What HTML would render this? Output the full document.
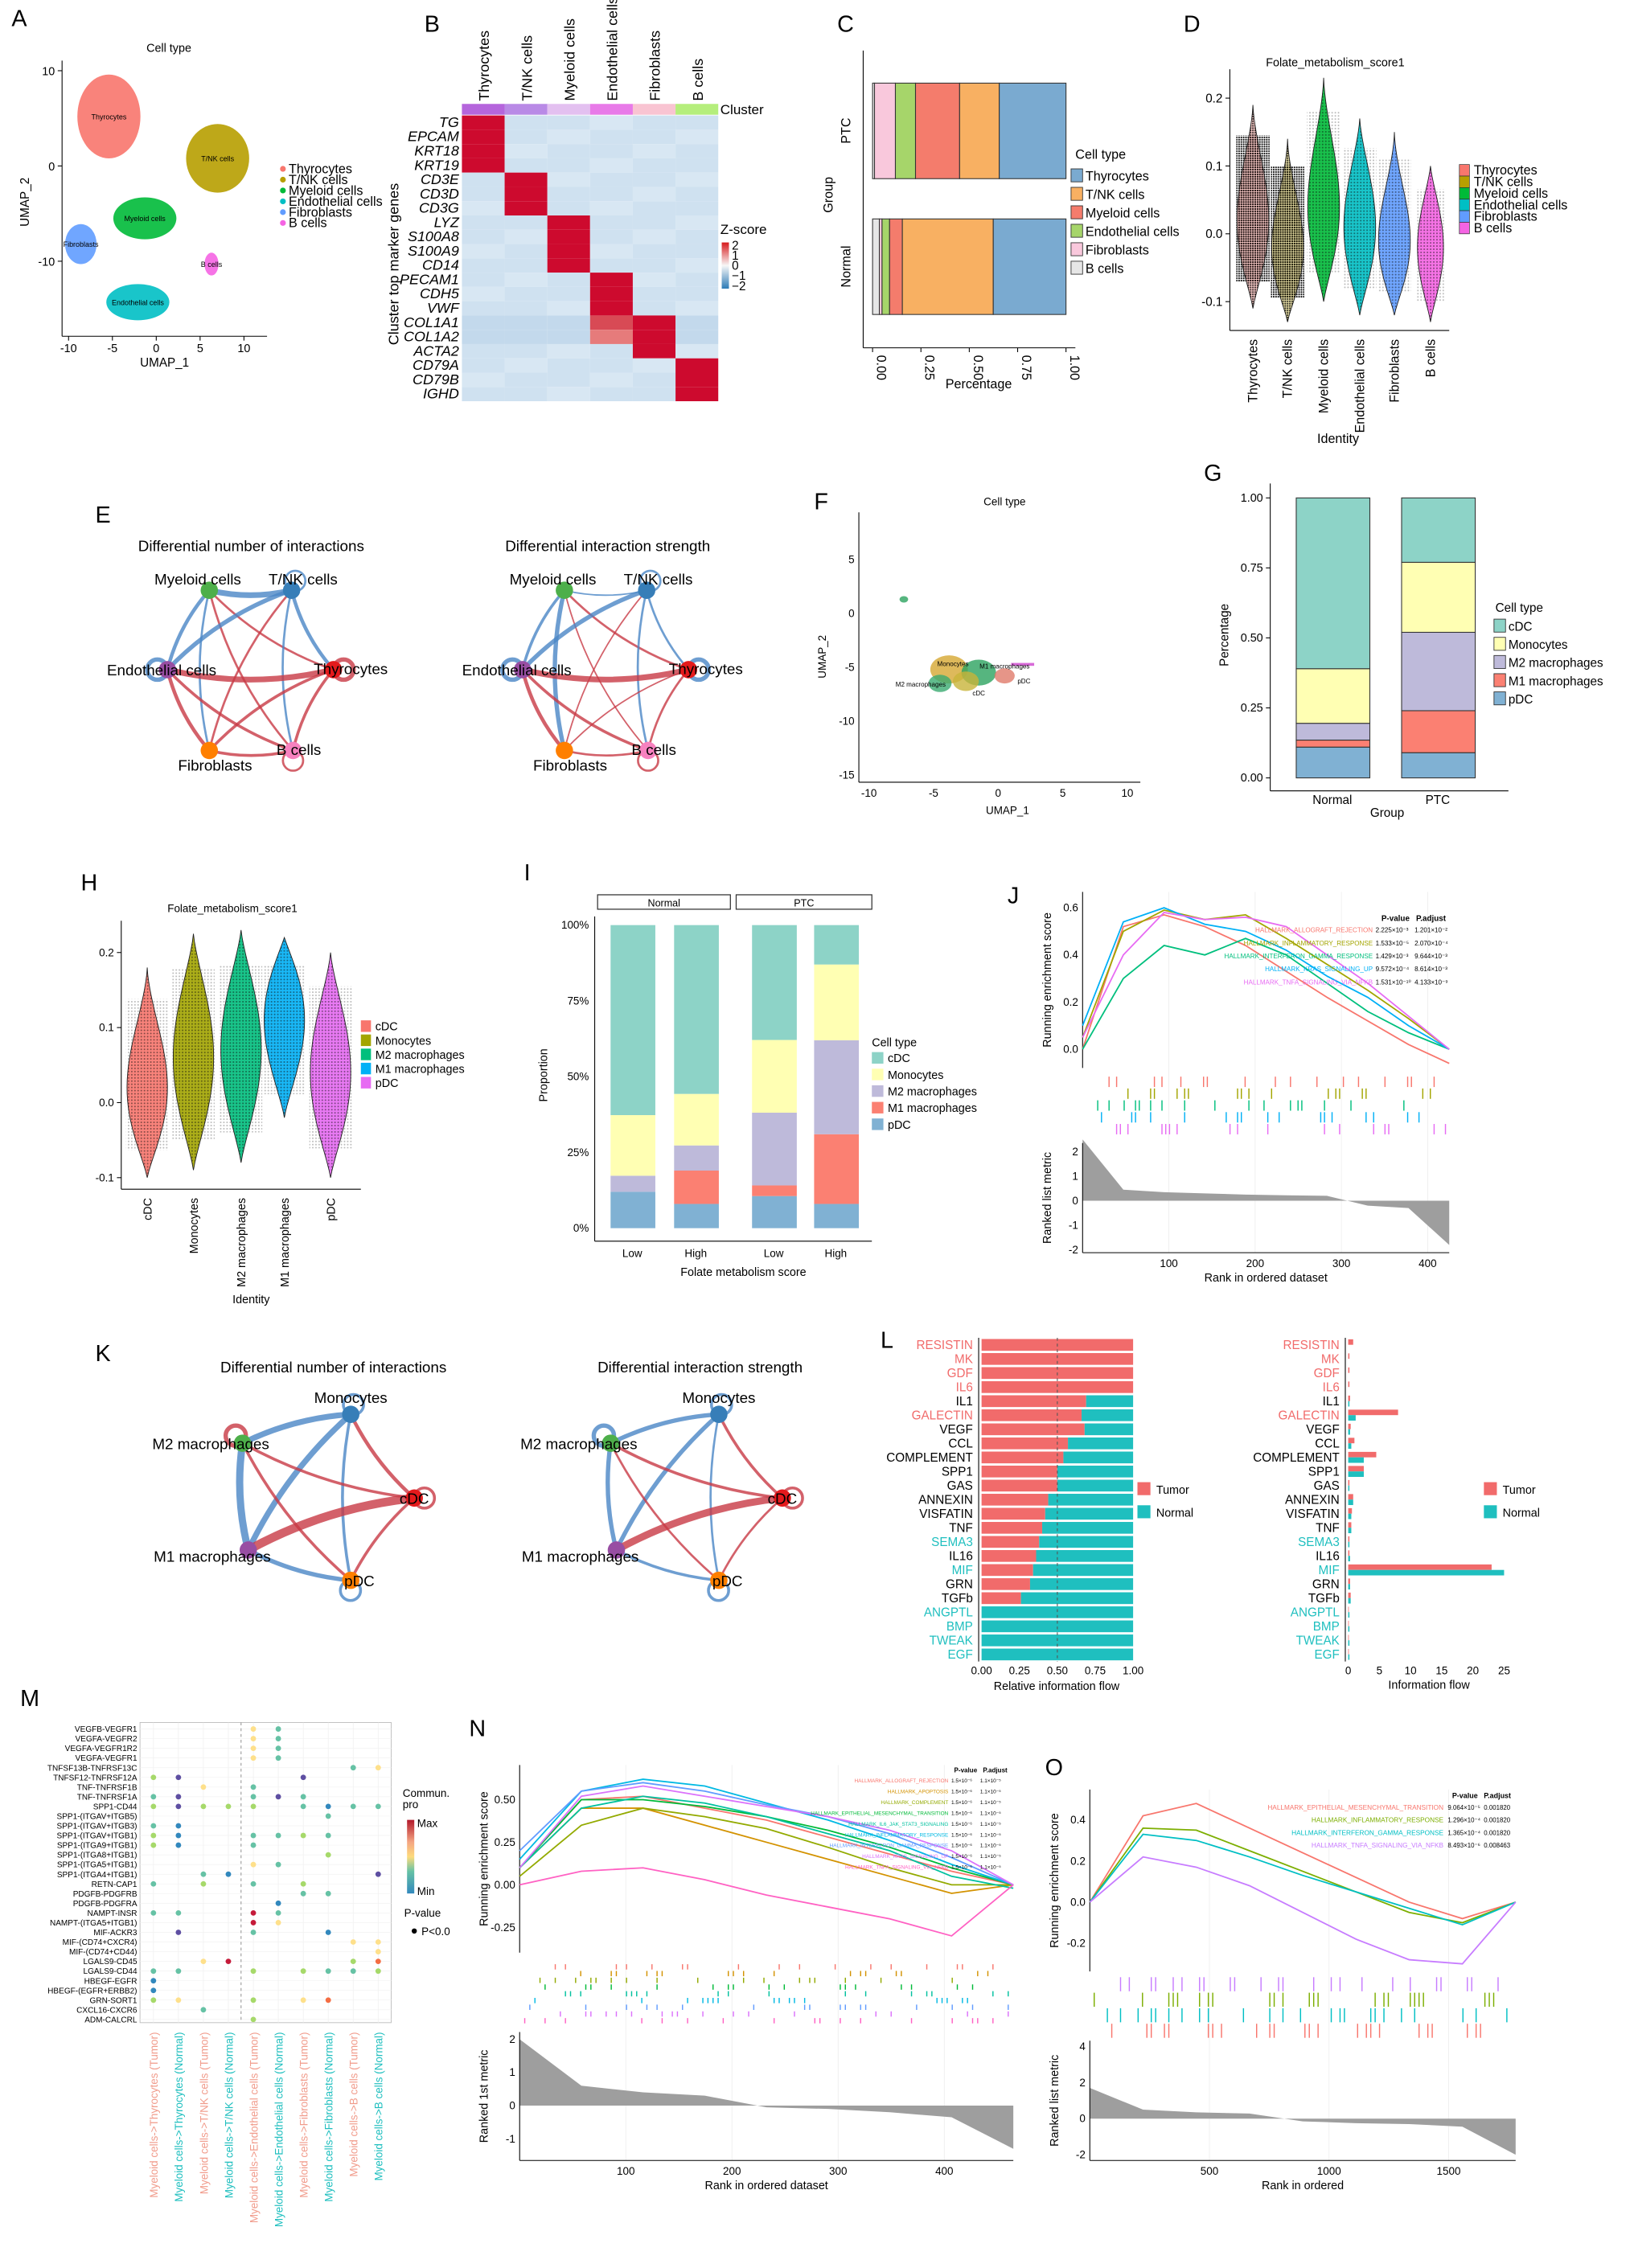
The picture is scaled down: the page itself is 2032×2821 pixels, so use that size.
<!DOCTYPE html>
<html><head><meta charset="utf-8">
<style>
html,body{margin:0;padding:0;background:#fff;}
svg{display:block;font-family:"Liberation Sans",sans-serif;}
</style></head>
<body>
<svg id="fig" xmlns="http://www.w3.org/2000/svg" width="2032" height="2821" viewBox="0 0 1132 1571.5" preserveAspectRatio="none">
<defs>
<pattern id="dots" width="2.2" height="2.2" patternUnits="userSpaceOnUse"><circle cx="1.1" cy="1.1" r="0.55" fill="#111"/></pattern>
<pattern id="dense" width="1.6" height="1.6" patternUnits="userSpaceOnUse"><circle cx="0.8" cy="0.8" r="0.6" fill="#000"/></pattern>
<linearGradient id="zgrad" x1="0" y1="0" x2="0" y2="1"><stop offset="0" stop-color="#d7191c"/><stop offset="0.5" stop-color="#f7f7f7"/><stop offset="1" stop-color="#2c7bb6"/></linearGradient>
<linearGradient id="cgrad" x1="0" y1="0" x2="0" y2="1"><stop offset="0" stop-color="#b2182b"/><stop offset="0.3" stop-color="#f4a582"/><stop offset="0.5" stop-color="#fddb7c"/><stop offset="0.7" stop-color="#66c2a5"/><stop offset="1" stop-color="#3288bd"/></linearGradient>
</defs>
</svg>
<script>
// ---------------- DATA ----------------
const cellTypes=['Thyrocytes','T/NK cells','Myeloid cells','Endothelial cells','Fibroblasts','B cells'];
const umapColors=['#F8766D','#B79F00','#00BA38','#00BFC4','#619CFF','#F564E3'];
const umapAx=[-5.4,7.0,-1.3,-2.1,-8.6,6.3];
const umapAy=[5.2,0.8,-5.5,-14.3,-8.2,-10.3];
const umapArx=[3.6,3.6,3.6,3.6,1.8,0.8];
const umapAry=[4.4,3.6,2.2,1.9,2.1,1.2];
const heatGenes=['TG','EPCAM','KRT18','KRT19','CD3E','CD3D','CD3G','LYZ','S100A8','S100A9','CD14','PECAM1','CDH5','VWF','COL1A1','COL1A2','ACTA2','CD79A','CD79B','IGHD'];
const heatCluster=[0,0,0,0,1,1,1,2,2,2,2,3,3,3,4,4,4,5,5,5];
const clusterBarColors=['#b565dc','#b98ae6','#e3c0f0','#e87ae8','#f9c4d2','#b5ee7c'];
const cGroups=['PTC','Normal'];
const cLegend=['Thyrocytes','T/NK cells','Myeloid cells','Endothelial cells','Fibroblasts','B cells'];
const cColors=['#7aaad0','#f8b062','#f47c6c','#a6d56a','#f9c8dc','#e6e6e6'];
const cPTC=[0.01,0.108,0.104,0.228,0.205,0.345];
const cNormal=[0.035,0.014,0.039,0.066,0.47,0.376];
const dMin=[-0.11,-0.13,-0.1,-0.12,-0.12,-0.13];
const dMax=[0.19,0.14,0.23,0.17,0.15,0.1];
const dMode=[0.02,-0.02,0.04,0.01,-0.01,-0.02];
const dTicks=[0.2,0.1,0.0,-0.1];
const myeloidTypes=['cDC','Monocytes','M2 macrophages','M1 macrophages','pDC'];
const myeloidColors=['#8dd3c7','#ffffb3','#bebada','#fb8072','#80b1d3'];
const gNormal=[0.11,0.025,0.06,0.195,0.61];
const gPTC=[0.09,0.15,0.28,0.25,0.23];
const gTicks=[0,0.25,0.5,0.75,1.0];
const iBars=[[0.12,0.0,0.053,0.2,0.627],[0.08,0.11,0.083,0.17,0.557],[0.106,0.035,0.24,0.24,0.379],[0.08,0.23,0.31,0.25,0.13]];
const iLabels=['Low','High','Low','High'];
const hColors=['#F8766D','#A3A500','#00BF7D','#00B0F6','#E76BF3'];
const hMin=[-0.1,-0.09,-0.08,-0.02,-0.1];
const hMax=[0.18,0.225,0.23,0.22,0.2];
const hMode=[0.02,0.06,0.07,0.11,0.04];
const lPaths=['RESISTIN','MK','GDF','IL6','IL1','GALECTIN','VEGF','CCL','COMPLEMENT','SPP1','GAS','ANNEXIN','VISFATIN','TNF','SEMA3','IL16','MIF','GRN','TGFb','ANGPTL','BMP','TWEAK','EGF'];
const lLabelCol=['r','r','r','r','k','r','k','k','k','k','k','k','k','k','t','k','t','k','k','t','t','t','t'];
const lTumorFrac=[1,1,1,1,0.69,0.66,0.68,0.57,0.54,0.5,0.5,0.44,0.42,0.4,0.38,0.36,0.34,0.32,0.26,0,0,0,0];
const lTumorFlow=[0.8,0.2,0.2,0.2,0.3,8,0.4,1,4.5,2.5,0.2,0.8,0.6,0.5,0.2,0.2,23,0.3,0.4,0.1,0.1,0.1,0.1];
const lNormalFlow=[0,0,0,0,0.2,1.2,0.3,0.5,2.5,2.5,0.2,0.8,0.5,0.5,0.2,0.3,25,0.3,0.4,0.2,0.2,0.2,0.2];
const mRows=['VEGFB-VEGFR1','VEGFA-VEGFR2','VEGFA-VEGFR1R2','VEGFA-VEGFR1','TNFSF13B-TNFRSF13C','TNFSF12-TNFRSF12A','TNF-TNFRSF1B','TNF-TNFRSF1A','SPP1-CD44','SPP1-(ITGAV+ITGB5)','SPP1-(ITGAV+ITGB3)','SPP1-(ITGAV+ITGB1)','SPP1-(ITGA9+ITGB1)','SPP1-(ITGA8+ITGB1)','SPP1-(ITGA5+ITGB1)','SPP1-(ITGA4+ITGB1)','RETN-CAP1','PDGFB-PDGFRB','PDGFB-PDGFRA','NAMPT-INSR','NAMPT-(ITGA5+ITGB1)','MIF-ACKR3','MIF-(CD74+CXCR4)','MIF-(CD74+CD44)','LGALS9-CD45','LGALS9-CD44','HBEGF-EGFR','HBEGF-(EGFR+ERBB2)','GRN-SORT1','CXCL16-CXCR6','ADM-CALCRL'];
const mCols=['Myeloid cells->Thyrocytes (Tumor)','Myeloid cells->Thyrocytes (Normal)','Myeloid cells->T/NK cells (Tumor)','Myeloid cells->T/NK cells (Normal)','Myeloid cells->Endothelial cells (Tumor)','Myeloid cells->Endothelial cells (Normal)','Myeloid cells->Fibroblasts (Tumor)','Myeloid cells->Fibroblasts (Normal)','Myeloid cells->B cells (Tumor)','Myeloid cells->B cells (Normal)'];
const mDotRow=[0,0,1,1,2,2,3,3,4,4,5,5,5,6,6,7,7,7,7,7,8,8,8,8,8,8,8,8,8,9,10,10,11,11,11,11,11,11,12,12,12,13,14,14,15,15,15,16,16,16,16,17,17,18,19,19,19,19,20,20,21,21,21,22,22,23,24,24,24,24,25,25,25,25,25,25,25,26,27,28,28,28,28,28,29,30];
const mDotCol=[4,5,4,5,4,5,4,5,8,9,0,1,6,2,4,0,1,4,5,6,0,1,2,3,4,6,7,8,9,7,0,1,0,1,4,5,6,7,0,1,4,7,4,5,2,3,9,0,2,4,6,6,7,5,0,1,4,5,4,5,1,4,7,8,9,9,2,3,8,9,0,1,4,6,7,8,9,0,0,0,1,4,6,7,2,4];
const mDotVal=[0.5,0.3,0.5,0.3,0.5,0.3,0.5,0.3,0.25,0.5,0.35,0.1,0.1,0.5,0.3,0.3,0.1,0.3,0.1,0.3,0.35,0.1,0.45,0.35,0.35,0.3,0.2,0.3,0.3,0.25,0.3,0.15,0.35,0.2,0.3,0.3,0.4,0.3,0.35,0.2,0.3,0.35,0.5,0.3,0.3,0.2,0.1,0.3,0.35,0.3,0.35,0.3,0.3,0.2,0.3,0.3,0.95,0.3,0.85,0.5,0.05,0.3,0.15,0.55,0.55,0.55,0.6,0.9,0.4,0.75,0.3,0.3,0.4,0.4,0.3,0.3,0.35,0.15,0.15,0.4,0.5,0.35,0.5,0.8,0.3,0.35];
const jNames=['HALLMARK_ALLOGRAFT_REJECTION','HALLMARK_INFLAMMATORY_RESPONSE','HALLMARK_INTERFERON_GAMMA_RESPONSE','HALLMARK_KRAS_SIGNALING_UP','HALLMARK_TNFA_SIGNALING_VIA_NFKB'];
const jP=['2.225×10⁻³','1.533×10⁻⁵','1.429×10⁻³','9.572×10⁻⁴','1.531×10⁻¹⁰'];
const jPadj=['1.201×10⁻²','2.070×10⁻⁴','9.644×10⁻³','8.614×10⁻³','4.133×10⁻⁹'];
const jColors=['#F8766D','#A3A500','#00BF7D','#00B0F6','#E76BF3'];
const jES=[[0.0,0.52,0.57,0.52,0.44,0.33,0.22,0.12,0.02,-0.06],[0.05,0.5,0.59,0.55,0.57,0.47,0.36,0.25,0.13,0.0],[0.0,0.3,0.44,0.4,0.47,0.4,0.28,0.16,0.07,0.0],[0.1,0.54,0.6,0.53,0.5,0.42,0.31,0.22,0.1,0.0],[0.05,0.4,0.58,0.55,0.56,0.52,0.4,0.28,0.14,0.0]];
const jRank=[2.5,0.45,0.35,0.3,0.25,0.22,0.2,-0.2,-0.3,-1.8];
const nColors=['#F8766D','#D39200','#93AA00','#00BA38','#00C19F','#00B9E3','#619CFF','#DB72FB','#FF61C3'];
const nES=[[0.1,0.5,0.52,0.45,0.38,0.28,0.18,0.08,0.0],[0.1,0.45,0.45,0.35,0.25,0.15,0.05,-0.05,0.0],[0.05,0.35,0.45,0.4,0.33,0.22,0.1,0.0,0.0],[0.1,0.5,0.5,0.46,0.4,0.32,0.22,0.1,0.0],[0.1,0.45,0.52,0.48,0.4,0.3,0.2,0.05,-0.02],[0.15,0.55,0.62,0.58,0.48,0.38,0.26,0.12,0.0],[0.2,0.55,0.6,0.55,0.47,0.4,0.3,0.16,0.0],[0.1,0.52,0.58,0.52,0.46,0.4,0.32,0.2,0.0],[0.0,0.08,0.1,0.03,-0.06,-0.13,-0.2,-0.3,0.0]];
const nRank=[2.0,0.6,0.4,0.3,-0.05,-0.1,-0.2,-0.35,-1.3];
const oColors=['#F8766D','#7CAE00','#00BFC4','#C77CFF'];
const oRugColors=['#C77CFF','#7CAE00','#00BFC4','#F8766D'];
const oNames=['HALLMARK_EPITHELIAL_MESENCHYMAL_TRANSITION','HALLMARK_INFLAMMATORY_RESPONSE','HALLMARK_INTERFERON_GAMMA_RESPONSE','HALLMARK_TNFA_SIGNALING_VIA_NFKB'];
const oES=[[0.0,0.42,0.48,0.36,0.24,0.12,0.0,-0.08,0.0],[0.0,0.36,0.35,0.25,0.15,0.05,-0.05,-0.1,0.0],[0.0,0.33,0.3,0.22,0.13,0.05,-0.03,-0.11,0.0],[0.0,0.22,0.17,0.08,-0.05,-0.18,-0.28,-0.3,0.0]];
const oRank=[1.7,0.5,0.35,0.28,-0.15,-0.25,-0.3,-0.45,-2.0];

// ---------------- HELPERS ----------------
const NS='http://www.w3.org/2000/svg';
const svg=document.getElementById('fig');
function mk(tag,a,p){const e=document.createElementNS(NS,tag);for(const k in a)e.setAttribute(k,a[k]);(p||svg).appendChild(e);return e;}
function tx(x,y,s,o){o=o||{};const a={x:x,y:y,'font-size':o.fs||7,'text-anchor':o.a||'start',fill:o.c||'#000'};if(o.rot)a.transform='rotate('+o.rot+' '+x+' '+y+')';if(o.b)a['font-weight']='bold';if(o.it)a['font-style']='italic';const e=mk('text',a);e.textContent=s;


return e;}
function ln(x1,y1,x2,y2,c,w){const e=mk('line',{x1:x1,y1:y1,x2:x2,y2:y2,stroke:c||'#000','stroke-width':w||0.6});


return e;}
function lin(d0,d1,r0,r1){return v=>r0+(v-d0)*(r1-r0)/(d1-d0);}
function letter(x,y,s){tx(x,y,s,{fs:16,n:'panel-letter-'+s});}
function violin(cx,yTop,yBot,yMode,hw,col,name,dark){
  const p=Math.min(0.9,Math.max(0.1,(yMode-yTop)/(yBot-yTop)));const a=Math.log(0.5)/Math.log(p);
  let L=[],R=[];for(let i=0;i<=30;i++){const t=i/30;const w=hw*Math.pow(Math.sin(Math.PI*Math.pow(t,a)),1.2);const y=yTop+t*(yBot-yTop);R.push((cx+w)+','+y);L.unshift((cx-w)+','+y);}
  const d='M'+R.join(' L')+' L'+L.join(' L')+'Z';
  const cloud=mk('rect',{x:cx-hw*1.05,y:yTop+(yBot-yTop)*0.15,width:hw*2.1,height:(yBot-yTop)*0.72,fill:dark?'url(#dense)':'url(#dots)',opacity:dark?0.95:0.3});
  
  
  const v=mk('path',{d:d,fill:col,'fill-opacity':dark?0.35:0.9,stroke:'#222','stroke-width':0.5});
  
  
  const v2=mk('path',{d:d,fill:dark?'url(#dense)':'url(#dots)',opacity:dark?0.8:0.5});
  
  
}
function node(x,y,c,name){const e=mk('circle',{cx:x,cy:y,r:6,fill:c});

}
function edge(x1,y1,x2,y2,c,w,bend){const mx=(x1+x2)/2,my=(y1+y2)/2;const dx=x2-x1,dy=y2-y1;const qx=mx-dy*bend,qy=my+dx*bend;
const e=mk('path',{d:`M${x1},${y1} Q${qx},${qy} ${x2},${y2}`,fill:'none',stroke:c,'stroke-width':w,'stroke-opacity':0.8});

}
function loop(x,y,c,w,ang){const r=7;const cx=x+Math.cos(ang)*r,cy=y+Math.sin(ang)*r;const e=mk('circle',{cx:cx,cy:cy,r:r,fill:'none',stroke:c,'stroke-width':w,'stroke-opacity':0.8});

}

// ---------------- PANEL A ----------------
letter(8,18,'A');
tx(117,36,'Cell type',{fs:8,a:'middle',n:'a-title'});
{const sx=lin(-10,10,47.5,169),sy=lin(-10,10,181,49);
ln(43,42,43,233);ln(43,233,185,233);
[-10,-5,0,5,10].forEach(v=>{ln(sx(v),233,sx(v),236);tx(sx(v),244,String(v),{fs:8,a:'middle',n:'a-x-tick'});});
[10,0,-10].forEach(v=>{ln(40,sy(v),43,sy(v));tx(38,sy(v)+3,String(v),{fs:8,a:'end',n:'a-y-tick'});});
tx(114,254,'UMAP_1',{fs:8.5,a:'middle',n:'a-x-title'});tx(20,140,'UMAP_2',{fs:8.5,a:'middle',rot:-90,n:'a-y-title'});
for(let i=0;i<6;i++){const e=mk('ellipse',{cx:sx(umapAx[i]),cy:sy(umapAy[i]),rx:umapArx[i]*6.07,ry:umapAry[i]*6.6,fill:umapColors[i],opacity:0.9});


tx(sx(umapAx[i]),sy(umapAy[i])+2,cellTypes[i],{fs:5,a:'middle',n:'a-cluster-label'});}
for(let i=0;i<6;i++){const c=mk('circle',{cx:196,cy:117+i*7.5,r:2,fill:umapColors[i]});


tx(200,120+i*7.5,cellTypes[i],{fs:9,n:'a-legend-entry'});}}

// ---------------- PANEL B ----------------
letter(294,22,'B');
{const x0=320,cw=29.6,y0=80,rh=9.9;
for(let j=0;j<6;j++){tx(x0+j*cw+cw/2+4,70,cellTypes[j],{fs:10,a:'start',rot:-90,n:'b-col-label'});
const r=mk('rect',{x:x0+j*cw,y:72,width:cw,height:7.5,fill:clusterBarColors[j]});

}
tx(499,79,'Cluster',{fs:9.5,n:'b-cluster-label'});
for(let i=0;i<heatGenes.length;i++){tx(x0-2,y0+i*rh+8,heatGenes[i],{fs:10,a:'end',it:true,n:'b-gene-label'});
for(let j=0;j<6;j++){let c='#cfe1f0';if(heatCluster[i]===j)c='#cd0a2e';else if(heatGenes[i]==='COL1A1'&&j===3)c='#d84a55';else if(heatGenes[i]==='COL1A2'&&j===3)c='#e67b7b';else if(heatGenes[i]==='COL1A1'&&j===4)c='#efa0a0';else if(heatGenes[i]==='COL1A2'&&j===4)c='#e37070';else if(i>=14&&i<=15)c='#c3d9ec';else if((i+j)%3===0)c='#d8e7f3';
const r=mk('rect',{x:x0+j*cw,y:y0+i*rh,width:cw,height:rh,fill:c});

}}
tx(276,183,'Cluster top marker genes',{fs:10,a:'middle',rot:-90,n:'b-y-title'});
tx(499,162,'Z-score',{fs:9.5,n:'b-legend-title'});
const g=mk('rect',{x:500,y:168,width:5,height:32,fill:'url(#zgrad)'});


['2','1','0','−1','−2'].forEach((s,k)=>tx(507,173+k*7,s,{fs:8.5,n:'b-legend-tick'}));}

// ---------------- PANEL C ----------------
letter(580,22,'C');
{const sx=lin(0,1,604.5,738.5);
ln(598,35,598,241);ln(598,241,745,241);
const ys=[57.6,151.7];const vals=[cPTC,cNormal];const drawColors=[cColors[5],cColors[4],cColors[3],cColors[2],cColors[1],cColors[0]];
for(let g=0;g<2;g++){let acc=0;for(let k=0;k<6;k++){const v=vals[g][k];if(v>0){const r=mk('rect',{x:sx(acc),y:ys[g],width:sx(acc+v)-sx(acc),height:66.2,fill:drawColors[k],stroke:'#333','stroke-width':0.6});

}acc+=v;}
tx(589,ys[g]+33,cGroups[g],{fs:9,a:'middle',rot:-90,n:'c-group-label'});}
['0.00','0.25','0.50','0.75','1.00'].forEach((s,k)=>{const x=sx(k*0.25);ln(x,241,x,244);tx(x+3,246,s,{fs:9,rot:90,n:'c-x-tick'});});
tx(678,269,'Percentage',{fs:9,a:'middle',n:'c-x-title'});tx(577,135,'Group',{fs:9,a:'middle',rot:-90,n:'c-y-title'});
tx(745,110,'Cell type',{fs:9,n:'c-legend-title'});
for(let i=0;i<6;i++){const r=mk('rect',{x:742,y:117+i*12.8,width:8,height:9,fill:cColors[i],stroke:'#333','stroke-width':0.5});


tx(752,125+i*12.8,cLegend[i],{fs:9,n:'c-legend-entry'});}}

// ---------------- PANEL D ----------------
letter(820,22,'D');
{const sy=lin(0,0.1,162,115);
tx(925,46,'Folate_metabolism_score1',{fs:8,a:'middle',n:'d-title'});
ln(852,48,852,229);ln(852,229,1004,229);
dTicks.forEach(v=>{ln(849,sy(v),852,sy(v));tx(847,sy(v)+3,v.toFixed(1),{fs:8.5,a:'end',n:'d-y-tick'});});
const cxs=[868,892,917,942,966,991];
for(let i=0;i<6;i++){const cx=cxs[i];violin(cx,sy(dMax[i]),sy(dMin[i]),sy(dMode[i]),i<2?11:(i===5?9:11),umapColors[i],'d-'+i,i<2);
tx(cx+3,235,cellTypes[i],{fs:9,rot:-90,a:'end',n:'d-x-label'});}
tx(927,307,'Identity',{fs:9,a:'middle',n:'d-x-title'});
for(let i=0;i<6;i++){const r=mk('rect',{x:1011,y:114+i*8,width:7,height:8,fill:umapColors[i],stroke:'#333','stroke-width':0.4});


tx(1021,121+i*8,cellTypes[i],{fs:9,n:'d-legend-entry'});}}

// ---------------- PANEL E ----------------
letter(66,362,'E');
{const base=[[145,409],[202,409],[116,464],[231,464],[145,520],[203,520]];const ncol=['#4daf4a','#377eb8','#984ea3','#e41a1c','#ff7f00','#f781bf'];
const eFrom=[0,0,0,0,0,1,1,1,1,2,2,2,3,3,4];
const eTo=[1,2,3,4,5,2,3,4,5,3,4,5,4,5,5];
const eCol=['b','b','r','b','r','b','b','r','b','r','r','r','r','r','r'];
const eW=[4,2.5,1.5,1.5,1.5,3,2.5,1.5,1.5,4,2.5,2,2,2,2];
const eW2=[1,2,1.5,3,1,3,1.5,1,1.5,4,2.5,2,1,1.5,1.5];
[0,246].forEach((off,k)=>{tx(k?421:174,382,k?'Differential interaction strength':'Differential number of interactions',{fs:10.5,a:'middle',n:'e-title'});
for(let i=0;i<eFrom.length;i++){const a=base[eFrom[i]],b=base[eTo[i]];edge(a[0]+off,a[1],b[0]+off,b[1],eCol[i]==='b'?'#4a86c5':'#c83a45',k?eW2[i]:eW[i],0.12);}
loop(base[2][0]+off,base[2][1],'#4a86c5',3,Math.PI);loop(base[5][0]+off,base[5][1],'#c83a45',1.5,Math.PI/2);loop(base[3][0]+off,base[3][1],k?'#4a86c5':'#c83a45',3,0);loop(base[1][0]+off,base[1][1],'#4a86c5',1.5,-1.2);
const names=['Myeloid cells','T/NK cells','Endothelial cells','Thyrocytes','Fibroblasts','B cells'];
const lo=[[-8,-4,'middle'],[8,-4,'middle'],[-4,4,'middle'],[12,3,'middle'],[4,14,'middle'],[4,3,'middle']];
for(let i=0;i<6;i++){node(base[i][0]+off,base[i][1],ncol[i],'e-node');tx(base[i][0]+off+lo[i][0],base[i][1]+lo[i][1],names[i],{fs:10.5,a:lo[i][2],n:'e-node-label'});}});}

// ---------------- PANEL F ----------------
letter(564,353,'F');
{const sx=lin(-10,10,602,781),sy=lin(0,-15,425,537);
tx(696,350,'Cell type',{fs:7.5,a:'middle',n:'f-title'});
ln(595,355,595,542);ln(595,542,790,542);
[-10,-5,0,5,10].forEach(v=>{tx(sx(v),552,String(v),{fs:7.5,a:'middle',n:'f-x-tick'});});
[5,0,-5,-10,-15].forEach(v=>{tx(592,sy(v)+2.5,String(v),{fs:7.5,a:'end',n:'f-y-tick'});});
tx(698,564,'UMAP_1',{fs:7.5,a:'middle',n:'f-x-title'});tx(572,455,'UMAP_2',{fs:7.5,a:'middle',rot:-90,n:'f-y-title'});
const fx=[-3.8,-1.5,-2.5,-4.5,0.5,-7.3];const fy=[-5.2,-5.5,-6.3,-6.5,-5.8,1.3];const fc=['#d6a832','#2ca25f','#c8b43a','#3aaa70','#e07a6a','#2ca25f'];const fr=[13,12,9,8,7,3];
for(let i=0;i<fx.length;i++){const e=mk('ellipse',{cx:sx(fx[i]),cy:sy(fy[i]),rx:fr[i],ry:fr[i]*0.75,fill:fc[i],opacity:0.8});

}
const pd=mk('rect',{x:sx(1),y:sy(-4.6),width:16,height:2,fill:'#d86ad8'});
tx(sx(-3.5),sy(-4.9),'Monocytes',{fs:4.5,a:'middle',n:'f-label'});tx(sx(0.5),sy(-5.1),'M1 macrophages',{fs:4.5,a:'middle',n:'f-label'});tx(sx(-6),sy(-6.8),'M2 macrophages',{fs:4.5,a:'middle',n:'f-label'});tx(sx(-1.5),sy(-7.6),'cDC',{fs:4.5,a:'middle',n:'f-label'});tx(sx(2),sy(-6.5),'pDC',{fs:4.5,a:'middle',n:'f-label'});}

// ---------------- PANEL G ----------------
letter(834,333,'G');
{const sy=lin(0,1,539,345);
ln(880,335,880,548);ln(880,548,1045,548);
gTicks.forEach(v=>{ln(877,sy(v),880,sy(v));tx(875,sy(v)+2.5,v.toFixed(2),{fs:8,a:'end',n:'g-y-tick'});});
const gx=[898,971];const data=[gNormal,gPTC];const lab=['Normal','PTC'];
const order=[4,3,2,1,0];
for(let g=0;g<2;g++){let acc=0;for(let k=0;k<5;k++){const v=data[g][k];const r=mk('rect',{x:gx[g],y:sy(acc+v),width:51,height:sy(acc)-sy(acc+v),fill:myeloidColors[order[k]],stroke:'#333','stroke-width':0.6});

acc+=v;}
tx(gx[g]+25,557,lab[g],{fs:8.5,a:'middle',n:'g-x-label'});}
tx(961,566,'Group',{fs:8.5,a:'middle',n:'g-x-title'});tx(851,440,'Percentage',{fs:8.5,a:'middle',rot:-90,n:'g-y-title'});
tx(1036,424,'Cell type',{fs:8.5,n:'g-legend-title'});
for(let i=0;i<5;i++){const r=mk('rect',{x:1035,y:429+i*12.6,width:8,height:9,fill:myeloidColors[i],stroke:'#333','stroke-width':0.5});


tx(1045,437+i*12.6,myeloidTypes[i],{fs:8.5,n:'g-legend-entry'});}}

// ---------------- PANEL H ----------------
letter(56,617,'H');
{const sy=lin(0,0.1,764,712);
tx(161,632,'Folate_metabolism_score1',{fs:7.5,a:'middle',n:'h-title'});
ln(84,638,84,824);ln(84,824,250,824);
[0.2,0.1,0.0,-0.1].forEach(v=>{ln(81,sy(v),84,sy(v));tx(79,sy(v)+2.5,v.toFixed(1),{fs:7.5,a:'end',n:'h-y-tick'});});
const cxs=[102,134,167,197,229];
for(let i=0;i<5;i++){const cx=cxs[i];violin(cx,sy(hMax[i]),sy(hMin[i]),sy(hMode[i]),14,hColors[i],'h-'+i,false);
tx(cx+3,830,myeloidTypes[i],{fs:8,rot:-90,a:'end',n:'h-x-label'});}
tx(174,903,'Identity',{fs:8,a:'middle',n:'h-x-title'});
for(let i=0;i<5;i++){const r=mk('rect',{x:250,y:707+i*9.8,width:7,height:8,fill:hColors[i]});


tx(260,714+i*9.8,myeloidTypes[i],{fs:8,n:'h-legend-entry'});}}

// ---------------- PANEL I ----------------
letter(363,610,'I');
{const sy=lin(0,1,851,641);
const s1=mk('rect',{x:414,y:620,width:92,height:10,fill:'#fff',stroke:'#333','stroke-width':0.7});
const s2=mk('rect',{x:510,y:620,width:94,height:10,fill:'#fff',stroke:'#333','stroke-width':0.7});
tx(460,628,'Normal',{fs:7,a:'middle',n:'i-strip-label'});tx(557,628,'PTC',{fs:7,a:'middle',n:'i-strip-label'});
ln(412,635,412,860);ln(412,860,604,860);
['0%','25%','50%','75%','100%'].forEach((s,k)=>tx(408,sy(k*0.25)+2.5,s,{fs:7.5,a:'end',n:'i-y-tick'}));
const bx=[423,467,521,564];const order=[4,3,2,1,0];
for(let b=0;b<4;b++){let acc=0;for(let k=0;k<5;k++){const v=iBars[b][k];const r=mk('rect',{x:bx[b],y:sy(acc+v),width:31,height:Math.max(0,sy(acc)-sy(acc+v)),fill:myeloidColors[order[k]]});

acc+=v;}
tx(bx[b]+15,871,iLabels[b],{fs:7.5,a:'middle',n:'i-x-label'});}
tx(515,884,'Folate metabolism score',{fs:8,a:'middle',n:'i-x-title'});tx(379,745,'Proportion',{fs:8,a:'middle',rot:-90,n:'i-y-title'});
tx(604,725,'Cell type',{fs:8,n:'i-legend-title'});
for(let i=0;i<5;i++){const r=mk('rect',{x:604,y:729+i*11.5,width:8,height:8,fill:myeloidColors[i]});


tx(615,736+i*11.5,myeloidTypes[i],{fs:8,n:'i-legend-entry'});}}

// ---------------- GSEA helper ----------------
function gsea(p){const sx=lin(p.r0,p.r1,p.x0,p.x1),sy=lin(p.yd0,p.yd1,p.ya,p.yb);
ln(p.x0,p.top,p.x0,p.bot);
p.yt.forEach(v=>{tx(p.x0-3,sy(v)+2.5,v.toFixed(p.dec),{fs:7.5,a:'end',n:p.id+'-y-tick'});});
p.xt.forEach(v=>{const x=sx(v);ln(x,p.top,x,p.rankBot,'#eee',0.5);});
tx(p.x0-22,(p.top+p.bot)/2,'Running enrichment score',{fs:8,a:'middle',rot:-90,n:p.id+'-y-title'});
for(let s=0;s<p.es.length;s++){const arr=p.es[s];const pts=arr.map((v,i)=>sx(p.r0+(p.r1-p.r0)*i/(arr.length-1))+','+sy(v)).join(' ');
const e=mk('polyline',{points:pts,fill:'none',stroke:p.cols[s],'stroke-width':1});

}
const rc=p.rugCols||p.cols;const rh=(p.rugBot-p.rugTop)/rc.length;
for(let s=0;s<rc.length;s++){for(let k=0;k<p.hits.length;k++){const x=sx(p.r0+(p.r1-p.r0)*((p.hits[k]*(s+3))%97)/97);ln(x,p.rugTop+s*rh+1,x,p.rugTop+(s+1)*rh,rc[s],0.8);}}
const sr=lin(p.rd0,p.rd1,p.rya,p.ryb);const z=sr(0);let d='M'+p.x0+','+z;
p.rank.forEach((v,i)=>{d+=' L'+sx(p.r0+(p.r1-p.r0)*i/(p.rank.length-1))+','+sr(v);});d+=' L'+p.x1+','+z+'Z';
const a=mk('path',{d:d,fill:'#9e9e9e'});


ln(p.x0,p.rankTop,p.x0,p.rankBot);ln(p.x0,p.rankBot,p.x1,p.rankBot);
p.rt.forEach(v=>tx(p.x0-3,sr(v)+2.5,String(v),{fs:7.5,a:'end',n:p.id+'-rank-tick'}));
p.xt.forEach(v=>tx(sx(v),p.rankBot+10,String(v),{fs:7.5,a:'middle',n:p.id+'-x-tick'}));
tx((p.x0+p.x1)/2,p.rankBot+20,p.xtitle,{fs:8,a:'middle',n:p.id+'-x-title'});
tx(p.x0-22,(p.rankTop+p.rankBot)/2,p.rtitle,{fs:8,a:'middle',rot:-90,n:p.id+'-rank-title'});}
const hitsA=[3,7,11,17,23,29,31,41,43,53,59,61,67,71,79,83,89];

// ---------------- PANEL J ----------------
letter(698,626,'J');
gsea({id:'j',x0:750,x1:1004,r0:0,r1:425,yd0:0,yd1:0.6,ya:727,yb:629,top:618,bot:740,dec:1,yt:[0.6,0.4,0.2,0.0],xt:[100,200,300,400],es:jES,cols:jColors,rugTop:745,rugBot:786,hits:hitsA,rank:jRank,rd0:0,rd1:1,rya:832,ryb:815,rankTop:792,rankBot:868,rt:[2,1,0,-1,-2],xtitle:'Rank in ordered dataset',rtitle:'Ranked list metric'});
tx(957,638,'P-value',{fs:5.5,b:true,n:'j-pvalue-header'});tx(981,638,'P.adjust',{fs:5.5,b:true,n:'j-padj-header'});
for(let i=0;i<5;i++){tx(951,646+i*9,jNames[i],{fs:4.5,a:'end',c:jColors[i],n:'j-pathway-label'});tx(953,646+i*9,jP[i],{fs:4.5,n:'j-pvalue'});tx(980,646+i*9,jPadj[i],{fs:4.5,n:'j-padj'});}

// ---------------- PANEL K ----------------
letter(66,943,'K');
{const base=[[243,980],[168,1000],[287,1038],[172,1074],[243,1095]];const ncol=['#377eb8','#4daf4a','#e41a1c','#984ea3','#ff7f00'];
const names=['Monocytes','M2 macrophages','cDC','M1 macrophages','pDC'];
const kFrom=[0,0,0,0,1,1,1,2,2,3];const kTo=[1,2,3,4,2,3,4,3,4,4];
const kCol=['b','r','b','b','r','b','r','r','r','b'];
const kW=[4,2.5,4,2,2,5,2,6,2,3];const kW2=[3,2,3,1.5,2,3,1.5,5,1.5,2];
[0,255].forEach((off,k)=>{tx(k?485:231,951,k?'Differential interaction strength':'Differential number of interactions',{fs:10.5,a:'middle',n:'k-title'});
for(let i=0;i<kFrom.length;i++){const a=base[kFrom[i]],b=base[kTo[i]];edge(a[0]+off,a[1],b[0]+off,b[1],kCol[i]==='b'?'#4a86c5':'#c83a45',k?kW2[i]:kW[i],0.1);}
loop(base[1][0]+off,base[1][1],k?'#4a86c5':'#c83a45',3,-2.3);loop(base[0][0]+off,base[0][1],'#4a86c5',2,-1.3);loop(base[2][0]+off,base[2][1],'#c83a45',2,0);loop(base[4][0]+off,base[4][1],'#4a86c5',2,1.6);
const lo=[[0,-8,'middle'],[-22,4,'middle'],[0,4,'middle'],[-25,8,'middle'],[6,4,'middle']];
for(let i=0;i<5;i++){node(base[i][0]+off,base[i][1],ncol[i],'k-node');tx(base[i][0]+off+lo[i][0],base[i][1]+lo[i][1],names[i],{fs:10.5,a:lo[i][2],n:'k-node-label'});}});}

// ---------------- PANEL L ----------------
letter(610,934,'L');
{const x0=680,x1=785,y0=927,rh=9.75;const sx=lin(0,1,x0,x1);
for(let i=0;i<lPaths.length;i++){const y=y0+i*rh;const f=lTumorFrac[i];
const r1=mk('rect',{x:x0,y:y+0.8,width:sx(f)-x0,height:rh-1.6,fill:'#f16b6b'});
const r2=mk('rect',{x:sx(f),y:y+0.8,width:x1-sx(f),height:rh-1.6,fill:'#1fbfbf'});
const c=lLabelCol[i]==='r'?'#f16b6b':lLabelCol[i]==='t'?'#1fbfbf':'#000';
tx(x0-6,y+7.8,lPaths[i],{fs:8.5,a:'end',c:c,n:'l-pathway-label'});
tx(928,y+7.8,lPaths[i],{fs:8.5,a:'end',c:c,n:'l-pathway-label-right'});}
ln(sx(0.5),y0,sx(0.5),y0+lPaths.length*rh,'#555',0.6).setAttribute('stroke-dasharray','2,2');
ln(x0-2,y0,x0-2,y0+lPaths.length*rh);
[0,0.25,0.5,0.75,1].forEach(v=>tx(sx(v),1160,v.toFixed(2),{fs:7.5,a:'middle',n:'l-x-tick'}));
tx(732,1171,'Relative information flow',{fs:8,a:'middle',n:'l-x-title'});
const leg=[['Tumor','#f16b6b'],['Normal','#1fbfbf']];
leg.forEach((l,k)=>{const r=mk('rect',{x:788,y:1027+k*16,width:9,height:9,fill:l[1]});tx(801,1035+k*16,l[0],{fs:8,n:'l-legend-entry'});
const r3=mk('rect',{x:1028,y:1027+k*16,width:9,height:9,fill:l[1]});tx(1041,1035+k*16,l[0],{fs:8,n:'l-legend-entry-right'});});
const sf=lin(0,25,934,1042);
ln(932,y0,932,y0+lPaths.length*rh);
for(let i=0;i<lPaths.length;i++){const y=y0+i*rh;
const a=mk('rect',{x:934,y:y+1,width:sf(lTumorFlow[i])-934,height:3.8,fill:'#f16b6b'});
const b=mk('rect',{x:934,y:y+4.8,width:sf(lNormalFlow[i])-934,height:3.8,fill:'#1fbfbf'});}
[0,5,10,15,20,25].forEach(v=>tx(sf(v),1160,String(v),{fs:7.5,a:'middle',n:'l-flow-tick'}));
tx(990,1170,'Information flow',{fs:8,a:'middle',n:'l-flow-title'});}

// ---------------- PANEL M ----------------
letter(14,1182,'M');
{const x0=97,x1=271,y0=1198,rh=6.71;const cw=17.3;const cx0=106.3;
const fr=mk('rect',{x:x0,y:1193.5,width:x1-x0,height:208,fill:'#fff',stroke:'#bbb','stroke-width':0.5});
for(let j=0;j<10;j++)ln(cx0+j*cw,1193.5,cx0+j*cw,1401.5,'#eee',0.4);
for(let i=0;i<mRows.length;i++){ln(x0,y0+i*rh,x1,y0+i*rh,'#f2f2f2',0.4);tx(x0-2,y0+i*rh+2,mRows[i],{fs:5.6,a:'end',n:'m-row-label'});}
ln(167,1193.5,167,1401.5,'#999',0.6).setAttribute('stroke-dasharray','2,2');
const colorFor=v=>v>0.8?'#c51b3a':v>0.6?'#f46d43':v>0.45?'#fee08b':v>0.3?'#a6d96a':v>0.2?'#66c2a5':v>0.12?'#3288bd':'#5e4fa2';
for(let k=0;k<mDotRow.length;k++){const c=mk('circle',{cx:cx0+cw*mDotCol[k],cy:y0+mDotRow[k]*rh,r:1.9,fill:colorFor(mDotVal[k])});

}
for(let j=0;j<10;j++)tx(cx0+cw*j+3,1408,mCols[j],{fs:7.5,rot:-90,a:'end',c:j%2?'#1fbfbf':'#f19c8c',n:'m-col-label'});
tx(279,1245,'Commun.',{fs:7.5,n:'m-legend-title'});tx(279,1253,'pro',{fs:7.5,n:'m-legend-title'});
const g=mk('rect',{x:282,y:1261,width:5,height:51,fill:'url(#cgrad)'});
tx(289,1266,'Max',{fs:7.5,n:'m-legend-max'});tx(289,1313,'Min',{fs:7.5,n:'m-legend-min'});
tx(280,1328,'P-value',{fs:7.5,n:'m-pvalue-title'});const pd=mk('circle',{cx:287,cy:1338,r:1.8,fill:'#000'});tx(292,1341,'P<0.0',{fs:7.5,n:'m-pvalue-label'});}

// ---------------- PANEL N ----------------
letter(325,1203,'N');
gsea({id:'n',x0:360,x1:702,r0:0,r1:465,yd0:0,yd1:0.5,ya:1306,yb:1247,top:1223,bot:1353,dec:2,yt:[0.5,0.25,0,-0.25],xt:[100,200,300,400],es:nES,cols:nColors,rugTop:1360,rugBot:1402,hits:hitsA,rank:nRank,rd0:0,rd1:1,rya:1459,ryb:1436,rankTop:1408,rankBot:1497,rt:[2,1,0,-1],xtitle:'Rank in ordered dataset',rtitle:'Ranked 1st metric'});
{const nNames=['HALLMARK_ALLOGRAFT_REJECTION','HALLMARK_APOPTOSIS','HALLMARK_COMPLEMENT','HALLMARK_EPITHELIAL_MESENCHYMAL_TRANSITION','HALLMARK_IL6_JAK_STAT3_SIGNALING','HALLMARK_INFLAMMATORY_RESPONSE','HALLMARK_INTERFERON_GAMMA_RESPONSE','HALLMARK_KRAS_SIGNALING_UP','HALLMARK_TNFA_SIGNALING_VIA_NFKB'];
tx(661,1228,'P-value',{fs:4.5,b:true,n:'n-pvalue-header'});tx(681,1228,'P.adjust',{fs:4.5,b:true,n:'n-padj-header'});
for(let i=0;i<9;i++){tx(657,1235+i*7.5,nNames[i],{fs:3.6,a:'end',c:nColors[i],n:'n-pathway-label'});tx(659,1235+i*7.5,'1.5×10⁻⁶',{fs:3.6,n:'n-pvalue'});tx(679,1235+i*7.5,'1.1×10⁻⁵',{fs:3.6,n:'n-padj'});}}

// ---------------- PANEL O ----------------
letter(724,1230,'O');
gsea({id:'o',x0:755,x1:1050,r0:0,r1:1780,yd0:0,yd1:0.4,ya:1318,yb:1261,top:1240,bot:1366,dec:1,yt:[0.4,0.2,0.0,-0.2],xt:[500,1000,1500],es:oES,cols:oColors,rugCols:oRugColors,rugTop:1369,rugBot:1412,hits:hitsA.concat([5,13,19,37,47,73,91]),rank:oRank,rd0:0,rd1:2,rya:1468,ryb:1443,rankTop:1414,rankBot:1497,rt:[4,2,0,-2],xtitle:'Rank in ordered',rtitle:'Ranked list metric'});
tx(1006,1246,'P-value',{fs:5,b:true,n:'o-pvalue-header'});tx(1028,1246,'P.adjust',{fs:5,b:true,n:'o-padj-header'});
{const op=['9.064×10⁻⁵','1.296×10⁻⁴','1.365×10⁻⁴','8.493×10⁻⁶'];const oa=['0.001820','0.001820','0.001820','0.008463'];
for(let i=0;i<4;i++){tx(1000,1254+i*8.7,oNames[i],{fs:4.6,a:'end',c:oColors[i],n:'o-pathway-label'});tx(1003,1254+i*8.7,op[i],{fs:4.4,n:'o-pvalue'});tx(1028,1254+i*8.7,oa[i],{fs:4.4,n:'o-padj'});}}
</script>
</body></html>
